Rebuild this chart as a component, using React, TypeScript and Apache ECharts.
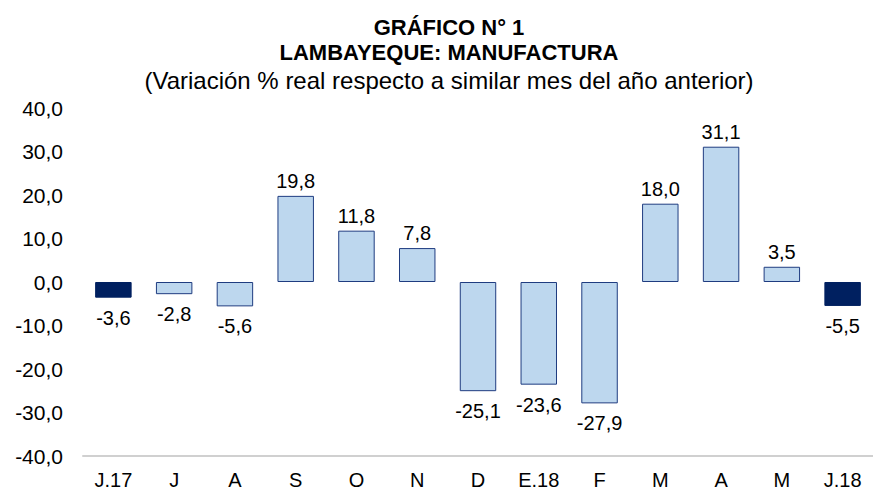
import React, { useEffect, useRef } from "react";
import * as echarts from "echarts";

const categories = ["J.17", "J", "A", "S", "O", "N", "D", "E.18", "F", "M", "A", "M", "J.18"];
const values = [-3.6, -2.8, -5.6, 19.8, 11.8, 7.8, -25.1, -23.6, -27.9, 18.0, 31.1, 3.5, -5.5];
const highlighted = [true, false, false, false, false, false, false, false, false, false, false, false, true];
const yTicks = { min: -40, max: 40, interval: 10 };
const titleLines = ["GRÁFICO N° 1", "LAMBAYEQUE: MANUFACTURA", "(Variación % real respecto a similar mes del año anterior)"];

const FONT = "'Liberation Sans', Arial, sans-serif";
const fmt = (v: number) => v.toFixed(1).replace(".", ",");

export default function App() {
  const ref = useRef<HTMLDivElement>(null);
  useEffect(() => {
    document.body.style.margin = "0";
    const chart = echarts.init(ref.current!, null, { renderer: "svg" });
    chart.setOption({
      animation: false,
      backgroundColor: "#ffffff",
      textStyle: { fontFamily: FONT },
      graphic: [
        { type: "text", x: 449, y: 27, style: { text: titleLines[0], font: `bold 22px ${FONT}`, fill: "#000", align: "center", verticalAlign: "middle" } },
        { type: "text", x: 449, y: 52, style: { text: titleLines[1], font: `bold 22px ${FONT}`, fill: "#000", align: "center", verticalAlign: "middle" } },
        { type: "text", x: 449, y: 80, style: { text: titleLines[2], font: `24px ${FONT}`, fill: "#000", align: "center", verticalAlign: "middle" } },
      ],
      grid: { left: 83, width: 797, top: 108, bottom: 34 },
      xAxis: [
        {
          type: "category",
          data: categories,
          position: "bottom",
          axisLine: { show: false },
          axisTick: { show: false },
          axisLabel: { color: "#000", fontSize: 20, fontFamily: FONT, margin: 14, interval: 0 },
        },
        {
          type: "category",
          data: categories,
          position: "bottom",
          axisLine: { show: true, onZero: true, lineStyle: { color: "#d0d0d0", width: 2 } },
          axisTick: { show: false },
          axisLabel: { show: false },
        },
      ],
      yAxis: {
        type: "value",
        min: yTicks.min,
        max: yTicks.max,
        interval: yTicks.interval,
        axisLine: { show: false },
        axisTick: { show: false },
        splitLine: { show: false },
        axisLabel: { color: "#000", fontSize: 21, fontFamily: FONT, margin: 20, formatter: (v: number) => fmt(v) },
      },
      series: [
        {
          type: "bar",
          xAxisIndex: 0,
          barCategoryGap: "40%",
          data: values.map((v, i) => ({
            value: v,
            itemStyle: {
              color: highlighted[i] ? "#002060" : "#bdd7ee",
              borderColor: highlighted[i] ? "#002060" : "#1f3c80",
              borderWidth: 1,
            },
            label: {
              show: true,
              position: v >= 0 ? "top" : "bottom",
              distance: v >= 0 ? 5 : 10,
              color: "#000",
              fontSize: 20,
              fontFamily: FONT,
              formatter: () => fmt(v),
            },
          })),
        },
      ],
    });
    return () => chart.dispose();
  }, []);
  return <div ref={ref} style={{ width: 873, height: 490 }} />;
}
